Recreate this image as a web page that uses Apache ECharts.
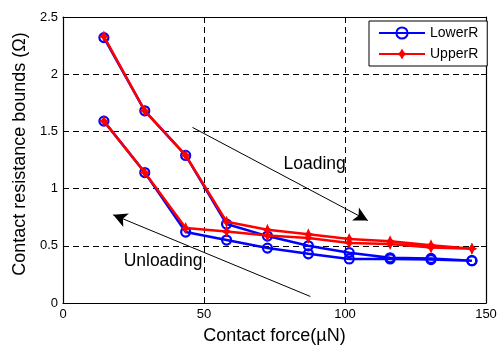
<!DOCTYPE html>
<html>
<head>
<meta charset="utf-8">
<script src="https://cdn.jsdelivr.net/npm/echarts@6/dist/echarts.min.js"></script>
<style>
  html, body { margin: 0; padding: 0; background: #fff; }
  #chart { width: 500px; height: 350px; }
</style>
</head>
<body>
<div id="chart"></div>
<script>
// Contact force (µN) at each measurement step
const forceLoading = [14.5, 29, 43.5, 58, 72.5, 87, 101.5, 116, 130.5, 145];
const forceUnloading = [145, 130.5, 116, 101.5, 87, 72.5, 58, 43.5, 29, 14.5];

// Contact resistance bounds (Ω)
const lowerLoading   = [2.32, 1.68, 1.29, 0.69, 0.585, 0.50, 0.44, 0.395, 0.39, 0.37];
const lowerUnloading = [0.37, 0.38, 0.385, 0.385, 0.43, 0.48, 0.55, 0.62, 1.14, 1.59];
const upperLoading   = [2.33, 1.68, 1.29, 0.71, 0.64, 0.60, 0.56, 0.54, 0.505, 0.475];
const upperUnloading = [0.475, 0.485, 0.515, 0.525, 0.568, 0.59, 0.625, 0.655, 1.14, 1.59];

const xTicks = [0, 50, 100, 150];
const yTicks = [0, 0.5, 1, 1.5, 2, 2.5];

// Annotation arrows and labels, in data units
const loadingArrow   = [[45.9, 1.535], [108.1, 0.721]];
const unloadingArrow = [[87.7, 0.057], [17.8, 0.771]];
const loadingLabel   = { text: 'Loading',   at: [78.2, 1.215] };
const unloadingLabel = { text: 'Unloading', at: [21.5, 0.37] };

const FONT = '"Liberation Sans", Arial, Helvetica, sans-serif';
const BLUE = '#0000ff';
const RED = '#ff0000';

function loop(xsA, ysA, xsB, ysB) {
  const pts = xsA.map((x, i) => [x, ysA[i]]);
  return pts.concat(xsB.map((x, i) => [x, ysB[i]]));
}

// Bold four-armed star for the upper bound markers
const starPath = 'path://M0,-6 L1.9,-1.9 L5,0 L1.9,1.9 L0,6 L-1.9,1.9 L-5,0 L-1.9,-1.9 Z';

const chart = echarts.init(document.getElementById('chart'), null, { renderer: 'canvas' });

const axisLine = { show: true, onZero: false, lineStyle: { color: '#000', width: 1.2 } };
const tick = { show: true, inside: true, length: 5, lineStyle: { color: '#000' } };
const gridDash = { show: true, lineStyle: { color: '#000', type: [6, 4], width: 1 } };

chart.setOption({
  animation: false,
  backgroundColor: '#fff',
  textStyle: { fontFamily: FONT },
  grid: { left: 63, right: 14, top: 17, bottom: 47, containLabel: false },
  legend: {
    data: ['LowerR', 'UpperR'],
    orient: 'vertical',
    left: 369,
    top: 21,
    padding: [5, 9, 5, 9],
    itemWidth: 46,
    itemHeight: 14,
    itemGap: 7,
    backgroundColor: '#fff',
    borderColor: '#000',
    borderWidth: 1,
    borderRadius: 0,
    textStyle: { fontFamily: FONT, fontSize: 14, color: '#000' }
  },
  xAxis: [
    {
      type: 'value', min: xTicks[0], max: xTicks[xTicks.length - 1], interval: 50,
      name: 'Contact force(µN)', nameLocation: 'middle', nameGap: 24,
      nameTextStyle: { fontFamily: FONT, fontSize: 18, color: '#000' },
      axisLine, axisTick: tick,
      axisLabel: { fontFamily: FONT, fontSize: 13, color: '#000', margin: 5 },
      splitLine: gridDash
    },
    {
      type: 'value', position: 'top', min: xTicks[0], max: xTicks[xTicks.length - 1], interval: 50,
      axisLine, axisTick: tick, axisLabel: { show: false }, splitLine: { show: false }
    }
  ],
  yAxis: [
    {
      type: 'value', min: yTicks[0], max: yTicks[yTicks.length - 1], interval: 0.5,
      name: 'Contact resistance bounds (Ω)', nameLocation: 'middle', nameGap: 33,
      nameTextStyle: { fontFamily: FONT, fontSize: 18, color: '#000', padding: [0, 0, 0, 12] },
      axisLine, axisTick: tick,
      axisLabel: { fontFamily: FONT, fontSize: 13, color: '#000', margin: 5 },
      splitLine: gridDash
    },
    {
      type: 'value', position: 'right', min: yTicks[0], max: yTicks[yTicks.length - 1], interval: 0.5,
      axisLine, axisTick: tick, axisLabel: { show: false }, splitLine: { show: false }
    }
  ],
  series: [
    {
      name: 'LowerR', type: 'line',
      data: loop(forceLoading, lowerLoading, forceUnloading, lowerUnloading),
      symbol: 'circle', symbolSize: 9,
      lineStyle: { color: BLUE, width: 2.5 },
      itemStyle: { color: 'rgba(0,0,0,0)', borderColor: BLUE, borderWidth: 2.2 },
      z: 3
    },
    {
      name: 'UpperR', type: 'line',
      data: loop(forceLoading, upperLoading, forceUnloading, upperUnloading),
      symbol: starPath, symbolSize: [10, 12],
      lineStyle: { color: RED, width: 2.5 },
      itemStyle: { color: RED },
      z: 4
    },
    {
      name: 'arrows', type: 'line', data: [], silent: true, z: 5,
      markLine: {
        silent: true,
        symbol: ['none', 'arrow'],
        symbolSize: [11, 14],
        label: { show: false },
        lineStyle: { color: '#000', width: 1, type: 'solid' },
        data: [
          [{ coord: loadingArrow[0] }, { coord: loadingArrow[1] }],
          [{ coord: unloadingArrow[0] }, { coord: unloadingArrow[1] }]
        ]
      }
    }
  ]
});

// Text labels placed in data coordinates
const labels = [loadingLabel, unloadingLabel].map(l => {
  const p = chart.convertToPixel({ gridIndex: 0 }, l.at);
  return {
    type: 'text', x: p[0], y: p[1], z: 10,
    style: { text: l.text, fill: '#000', font: '17.5px ' + FONT, textAlign: 'left', textVerticalAlign: 'middle' }
  };
});
chart.setOption({ graphic: labels });
</script>
</body>
</html>
